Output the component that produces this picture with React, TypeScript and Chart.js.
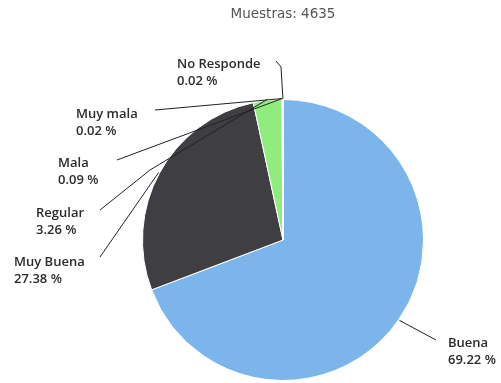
import React, { useEffect, useRef } from "react";
import { Chart, registerables } from "chart.js";

Chart.register(...registerables);

// Survey answers and their share of the sample (percent)
const categories = ["Buena", "Muy Buena", "Regular", "Mala", "Muy mala", "No Responde"];
const shares = [69.22, 27.38, 3.26, 0.09, 0.02, 0.02];
const sliceColors = ["#7cb5ec", "#3e3e43", "#90ed7d", "#f7a35c", "#8085e9", "#f15c80"];
const sampleSize = 4635;

// Label placement: text origin (left, first baseline) and connector route
type LabelLayout = { x: number; y: number; route: [number, number][] };
const labelLayout: LabelLayout[] = [
  { x: 448, y: 347, route: [[436, 340]] },
  { x: 14, y: 266, route: [[100, 257]] },
  { x: 36, y: 217, route: [[100, 210], [150, 170]] },
  { x: 58, y: 167, route: [[117, 160]] },
  { x: 76, y: 118, route: [[155, 110]] },
  { x: 177, y: 68, route: [[276, 61], [281, 67]] },
];

const LABEL_FONT = "'Open Sans', 'DejaVu Sans', sans-serif";
const TITLE_FONT = "'DejaVu Sans', Verdana, sans-serif";

const labelPlugin = {
  id: "sliceLabels",
  afterDatasetsDraw(chart: Chart) {
    const ctx = chart.ctx;
    const meta = chart.getDatasetMeta(0);
    ctx.save();
    meta.data.forEach((el: any, i: number) => {
      const lay = labelLayout[i];
      const mid = (el.startAngle + el.endAngle) / 2;
      const ax = el.x + Math.cos(mid) * (el.outerRadius + 1);
      const ay = el.y + Math.sin(mid) * (el.outerRadius + 1);
      ctx.strokeStyle = "#222";
      ctx.lineWidth = 1;
      ctx.beginPath();
      ctx.moveTo(lay.route[0][0], lay.route[0][1]);
      for (let k = 1; k < lay.route.length; k++) ctx.lineTo(lay.route[k][0], lay.route[k][1]);
      ctx.lineTo(ax, ay);
      ctx.stroke();

      ctx.fillStyle = "#2b2b2b";
      ctx.font = `600 13px ${LABEL_FONT}`;
      ctx.textAlign = "left";
      ctx.textBaseline = "alphabetic";
      ctx.fillText(categories[i], lay.x, lay.y);
      ctx.fillText(`${shares[i].toFixed(2)} %`, lay.x, lay.y + 17);
    });

    ctx.fillStyle = "#555";
    ctx.font = `13.5px ${TITLE_FONT}`;
    ctx.textAlign = "center";
    ctx.fillText(`Muestras: ${sampleSize}`, 283, 18);
    ctx.restore();
  },
};

export default function App() {
  const ref = useRef<HTMLCanvasElement | null>(null);

  useEffect(() => {
    if (!ref.current) return;
    const chart = new Chart(ref.current, {
      type: "pie",
      data: {
        labels: categories,
        datasets: [
          {
            data: shares,
            backgroundColor: sliceColors,
            borderColor: "#ffffff",
            borderWidth: 1,
          },
        ],
      },
      options: {
        animation: false,
        responsive: false,
        devicePixelRatio: 1,
        layout: { padding: { left: 142, right: 77, top: 99, bottom: 2 } },
        plugins: {
          legend: { display: false },
          tooltip: { enabled: false },
          title: { display: false },
        },
      },
      plugins: [labelPlugin],
    });
    return () => chart.destroy();
  }, []);

  return (
    <div style={{ position: "fixed", left: 0, top: 0, width: 501, height: 383, background: "#fff" }}>
      <canvas ref={ref} width={501} height={383} />
    </div>
  );
}
